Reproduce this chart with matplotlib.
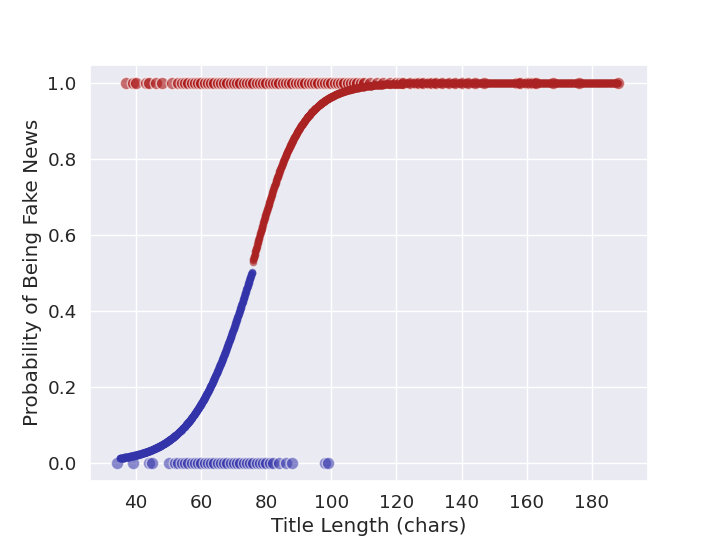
import numpy as np
import matplotlib
matplotlib.use("Agg")
import matplotlib.pyplot as plt
import seaborn as sns

sns.set_theme(font_scale=1.2)
real_x = [34, 39, 44, 45, 50, 52, 53, 54, 55, 56, 57, 58, 59, 60, 61, 62, 63, 64, 65, 66, 67,
          68, 69, 70, 71, 72, 73, 74, 75, 76, 77, 78, 79, 80, 81, 82, 84, 86, 88, 98, 99]
fake_x = [37, 39, 40, 43, 44, 46, 48, 51, 53, 54, 55, 56, 57, 58, 59, 60, 61, 62, 63, 64, 65,
          66, 67, 68, 69, 70, 71, 72, 73, 74, 75, 76, 77, 78, 79, 80, 81, 82, 83, 84, 85, 86,
          87, 88, 89, 90, 91, 92, 93, 94, 95, 96, 97, 98, 99, 100, 101, 102, 103, 104, 105, 106,
          107, 108, 109, 110, 112, 114, 116, 118, 120, 121, 122, 124, 126, 127, 128, 130, 131,
          132, 134, 136, 138, 140, 142, 144, 147, 157, 158, 160, 161, 162, 163, 168, 176, 188]
# fitted logistic parameters (lower / upper branch)
real_mid, real_slope = 75.5, 0.109
fake_mid, fake_slope = 74.9, 0.13
split = 75.6

fig, ax = plt.subplots(figsize=(7.2, 5.4), dpi=100)
ax.scatter(real_x, np.zeros(len(real_x)), s=80, color='#3333aa', alpha=0.55, edgecolor='white', linewidth=1)
ax.scatter(fake_x, np.ones(len(fake_x)), s=80, color='#aa1111', alpha=0.6, edgecolor='white', linewidth=1)

xb = np.linspace(35, split, 500)
pb = 1 / (1 + np.exp(-real_slope * (xb - real_mid)))
xr = np.linspace(split + 0.2, 188, 1200)
pr = 1 / (1 + np.exp(-fake_slope * (xr - fake_mid)))
ax.scatter(xb, pb, s=30, color='#3333aa', alpha=0.6, linewidth=0)
ax.scatter(xr, pr, s=30, color='#aa2222', alpha=0.6, linewidth=0)

ax.set_xlabel('Title Length (chars)')
ax.set_ylabel('Probability of Being Fake News')
ax.set_xlim(25.8, 197.3)
ax.set_ylim(-0.047, 1.047)
fig.savefig('out.png')
